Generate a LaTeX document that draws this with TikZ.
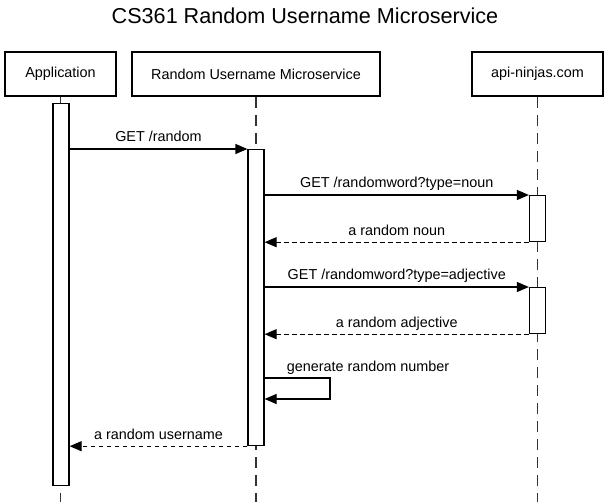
\documentclass[tikz,border=0pt]{standalone}
\usepackage{fontspec}
\setmainfont{Liberation Sans}
\usetikzlibrary{arrows.meta,positioning}
\tikzset{%
	participant/.style = {draw, rectangle, line width=2.8pt, inner sep=0pt, minimum height=44pt, font=\fontsize{14.4}{17}\selectfont}, % Actor box
	activation/.style  = {draw, rectangle, fill=white, line width=1.2pt, inner sep=0pt, minimum width=16pt}, % Activation bar
	lifeline/.style    = {draw=black!80, line width=1.2pt, dash pattern=on 11pt off 7pt},
	msg/.style         = {line width=1.2pt, -{Triangle[length=12pt,width=10pt]}},
	reply/.style       = {msg, dash pattern=on 4.5pt off 3.5pt},
	msgtext/.style     = {font=\fontsize{14.4}{17}\selectfont, anchor=base, inner sep=0pt, yshift=7pt},
}
\begin{document}
\begin{tikzpicture}[x=1pt,y=-1pt]
	\useasboundingbox (0,0) rectangle (610,502);
	\node [anchor=base,font=\fontsize{21.6}{26}\selectfont] (title) at (305,24) {CS361 Random Username Microservice};
	
	\node [participant,minimum width=111pt] (app) at (60.5,74) {Application};
	\node [participant,minimum width=248pt] (svc) at (256,74) {Random Username Microservice};
	\node [participant,minimum width=131pt] (api) at (537.5,74) {api-ninjas.com};
	
	% lifelines
	\coordinate (bottom) at (0,502);
	\draw [lifeline] (app.south) -- (app.south |- bottom);
	\draw [lifeline] (svc.south) -- (svc.south |- bottom);
	\draw [lifeline] (api.south) -- (api.south |- bottom);
	
	% activation bars
	\node [activation,anchor=north,minimum height=382pt] (actApp) at (61,103) {};
	\node [activation,anchor=north,minimum height=296pt] (actSvc) at (256,149) {};
	\node [activation,anchor=north,minimum height=46pt] (actApi1) at (537.5,195) {};
	\node [activation,anchor=north,minimum height=46pt] (actApi2) at (537.5,287) {};
	
	% messages
	\draw [msg] (actApp.east |- actSvc.north) -- node[msgtext] {GET /random} (actSvc.north west);
	\draw [msg] (actSvc.east |- actApi1.north) -- node[msgtext] {GET /randomword?type=noun} (actApi1.north west);
	\draw [reply] (actApi1.south west) -- node[msgtext] {a random noun} (actSvc.east |- actApi1.south);
	\draw [msg] (actSvc.east |- actApi2.north) -- node[msgtext] {GET /randomword?type=adjective} (actApi2.north west);
	\draw [reply] (actApi2.south west) -- node[msgtext] {a random adjective} (actSvc.east |- actApi2.south);
	
	\coordinate (loopA) at (330,378);
	\coordinate (loopB) at (330,399);
	\draw [msg] (actSvc.east |- loopA) -- node[msgtext,anchor=base west,pos=0.33] {generate random number} (loopA) -- (loopB) -- (actSvc.east |- loopB);
	
	\draw [reply] (actSvc.south west) -- node[msgtext] {a random username} (actApp.east |- actSvc.south);
\end{tikzpicture}
\end{document}
